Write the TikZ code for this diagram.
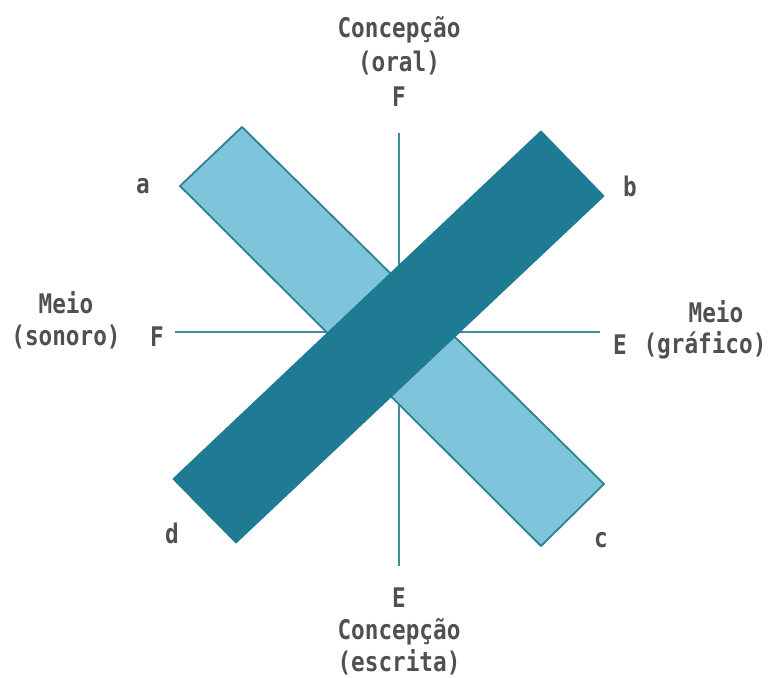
\documentclass[tikz,border=0pt]{standalone}
\usepackage{fontspec}
\setmainfont[FakeStretch=0.84]{DejaVu Sans Mono}
\definecolor{barlight}{HTML}{7EC5DC}
\definecolor{barline}{HTML}{2F7F95}
\definecolor{bardark}{HTML}{1F7A93}
\definecolor{axisteal}{HTML}{3E8E9E}
\definecolor{lbltext}{HTML}{505050}
\tikzset{
  axis/.style={draw=axisteal, line width=1.1pt},
  lightbar/.style={fill=barlight, draw=barline, line width=0.9pt, line join=round},
  darkbar/.style={fill=bardark, draw=bardark, line width=0.5pt},
  lbl/.style={font=\bfseries\fontsize{13.5}{15}\selectfont, text=lbltext, inner sep=0pt, align=center},
  corner/.style={font=\bfseries\fontsize{13.5}{15}\selectfont, text=lbltext, inner sep=0pt},
}

\begin{document}
\begin{tikzpicture}[x=0.5pt,y=-0.5pt]
  \useasboundingbox (0,0) rectangle (768,678);
  % axes
  \coordinate (top) at (399,133);
  \coordinate (bot) at (399,566);
  \coordinate (lft) at (175,332);
  \coordinate (rgt) at (600,332);
  \draw[axis] (top) -- (bot);
  \draw[axis] (lft) -- (rgt);
  % the two bars
  \draw[lightbar] (242,127) -- (180,186) -- (541,546) -- (604,484) -- cycle;
  \draw[darkbar] (541,131) -- (604,196) -- (236,543) -- (173,479) -- cycle;
  % axis labels
  \node[lbl] (concoral) at (399,30) {Concepção};
  \node[lbl] (oral) at (399,63) {(oral)};
  \node[lbl] (ftop) at (399,97) {F};
  \node[lbl] (ebot) at (399,598) {E};
  \node[lbl] (concescr) at (399,632) {Concepção};
  \node[lbl] (escr) at (399,662) {(escrita)};
  \node[lbl] (meiol) at (66,303) {Meio};
  \node[lbl] (sonoro) at (66,337) {(sonoro)};
  \node[lbl] (fleft) at (157,337) {F};
  \node[lbl] (eright) at (620,345) {E};
  \node[lbl] (meior) at (716,312) {Meio};
  \node[lbl] (grafico) at (705,345) {(gráfico)};
  % bar ends
  \node[corner] (ca) at (143,186) {a};
  \node[corner] (cb) at (630,186) {b};
  \node[corner] (cc) at (601,540) {c};
  \node[corner] (cd) at (172,533) {d};
\end{tikzpicture}
\end{document}
